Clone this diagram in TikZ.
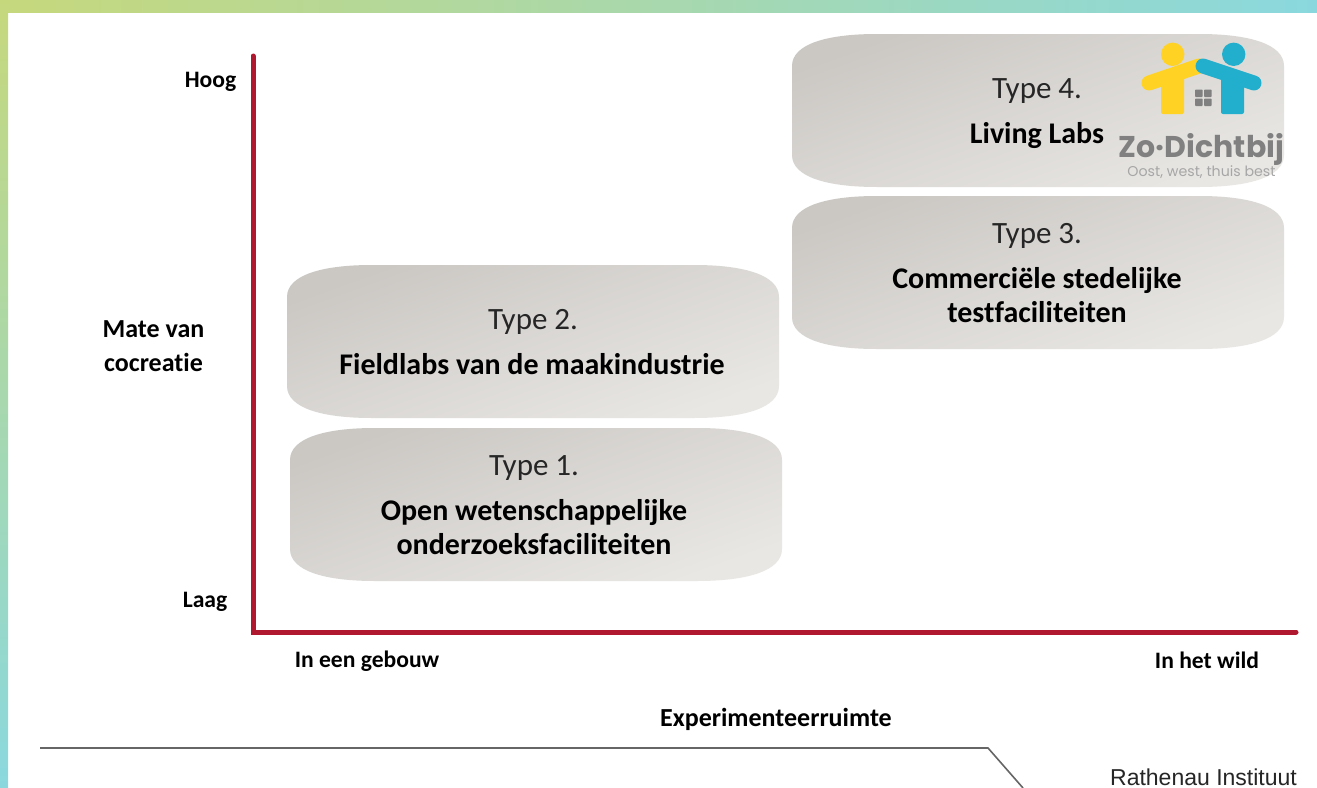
\documentclass[tikz,border=0pt]{standalone}
\usepackage{fontspec}
\setmainfont{Carlito}[Ligatures=NoCommon]
\newfontfamily\logofont{Poppins}
\newfontfamily\arialfont{Liberation Sans}
\definecolor{axisred}{HTML}{B0182F}
\definecolor{boxdark}{HTML}{CBC8C4}
\definecolor{boxlight}{HTML}{E9E7E4}
\definecolor{lime}{HTML}{C6D87C}
\definecolor{cyanish}{HTML}{8AD8DE}
\definecolor{logoyellow}{HTML}{FFD224}
\definecolor{logoblue}{HTML}{22AFCD}
\definecolor{logogray}{HTML}{808080}
\tikzset{
  axislabel/.style={font=\fontsize{23.6}{26}\selectfont\bfseries,align=center,text=black,inner sep=0pt},
  biglabel/.style={font=\fontsize{26}{34}\selectfont\bfseries,align=center,text=black,inner sep=0pt},
  typelabel/.style={font=\fontsize{31}{33}\selectfont,text=black!85,inner sep=0pt},
  namelabel/.style={font=\fontsize{30}{34}\selectfont\bfseries,align=center,text=black,inner sep=0pt},
  axisline/.style={draw=axisred,line width=5pt,line cap=round,line join=miter},
  footline/.style={draw=black!60,line width=1.6pt},
}
% x0,y0 = top-left corner of a 492 x 153 box
\newcommand{\softbox}[2]{%
  \shade[top color=boxdark,bottom color=boxlight,shading angle=20]
   (#1,#2+32) .. controls (#1,#2+10) and (#1+35,#2) .. (#1+85,#2)
   -- (#1+407,#2) .. controls (#1+457,#2) and (#1+492,#2+10) .. (#1+492,#2+32)
   -- (#1+492,#2+121) .. controls (#1+492,#2+143) and (#1+457,#2+153) .. (#1+407,#2+153)
   -- (#1+85,#2+153) .. controls (#1+35,#2+153) and (#1,#2+143) .. (#1,#2+121) -- cycle;}
\begin{document}
\begin{tikzpicture}[x=1pt,y=-1pt]
\useasboundingbox (0,0) rectangle (1317,787);
\fill[white] (0,0) rectangle (1317,787);
% frame
\shade[left color=lime,right color=cyanish] (0,0) rectangle (1317,12);
\shade[top color=lime,bottom color=cyanish] (0,0) rectangle (8,787);
% boxes
\softbox{792}{34}
\softbox{792}{196}
\softbox{287}{265}
\softbox{290}{428}
% axes
\coordinate (top) at (253,56);
\coordinate (origin) at (253,632);
\coordinate (right) at (1296,632);
\draw[axisline] (top) -- (origin) -- (right);
% axis labels
\node[axislabel] (hoog) at (210.5,81.5) {Hoog};
\node[axislabel] (laag) at (205,601.5) {Laag};
\node[biglabel] (mate) at (153.5,346) {Mate van\\cocreatie};
\node[axislabel] (gebouw) at (367,661) {In een gebouw};
\node[axislabel] (wild) at (1207,660.5) {In het wild};
\node[biglabel] (exp) at (776,719) {Experimenteerruimte};
% box labels
\node[typelabel] (t4) at (1037,91) {Type 4.};
\node[namelabel] (n4) at (1037,136) {Living Labs};
\node[typelabel] (t3) at (1037,236) {Type 3.};
\node[namelabel] (n3) at (1037,295) {Commerciële stedelijke\\testfaciliteiten};
\node[typelabel] (t2) at (533,322) {Type 2.};
\node[namelabel] (n2) at (532,364) {Fieldlabs van de maakindustrie};
\node[typelabel] (t1) at (534,468) {Type 1.};
\node[namelabel] (n1) at (534,527) {Open wetenschappelijke\\onderzoeksfaciliteiten};
% logo
\fill[logoyellow] (1172.7,54.3) circle (11.7);
\fill[logoblue] (1233.7,54.3) circle (11.7);
\draw[logoyellow,line width=15pt,line cap=round] (1149,83) -- (1199,66);
\fill[logoyellow,rounded corners=2pt] (1161,72) rectangle (1184,114);
\draw[logoblue,line width=15pt,line cap=round] (1203,66) -- (1254,83);
\fill[logoblue,rounded corners=2pt] (1221,72) rectangle (1244,114);
\fill[logogray,rounded corners=0.8pt] (1195,89.5) rectangle (1202.7,97);
\fill[logogray,rounded corners=0.8pt] (1204,89.5) rectangle (1211.7,97);
\fill[logogray,rounded corners=0.8pt] (1195,98.5) rectangle (1202.7,106);
\fill[logogray,rounded corners=0.8pt] (1204,98.5) rectangle (1211.7,106);
\node[font=\logofont\fontsize{30}{32}\selectfont\bfseries,text=logogray,inner sep=0pt] (logoname) at (1201.5,149.5) {Zo·Dichtbij};
\node[font=\logofont\fontsize{14.2}{15}\selectfont,text=black!35,inner sep=0pt] (logotag) at (1201.5,172) {Oost, west, thuis best};
% footer
\coordinate (fa) at (40,748);
\coordinate (fb) at (988,748);
\coordinate (fc) at (1023,788);
\draw[footline] (fa) -- (fb) -- (fc);
\node[font=\arialfont\fontsize{23}{24}\selectfont,text=black!85,inner sep=0pt,anchor=base] (rath) at (1203.5,785.5) {Rathenau Instituut};
\end{tikzpicture}
\end{document}
